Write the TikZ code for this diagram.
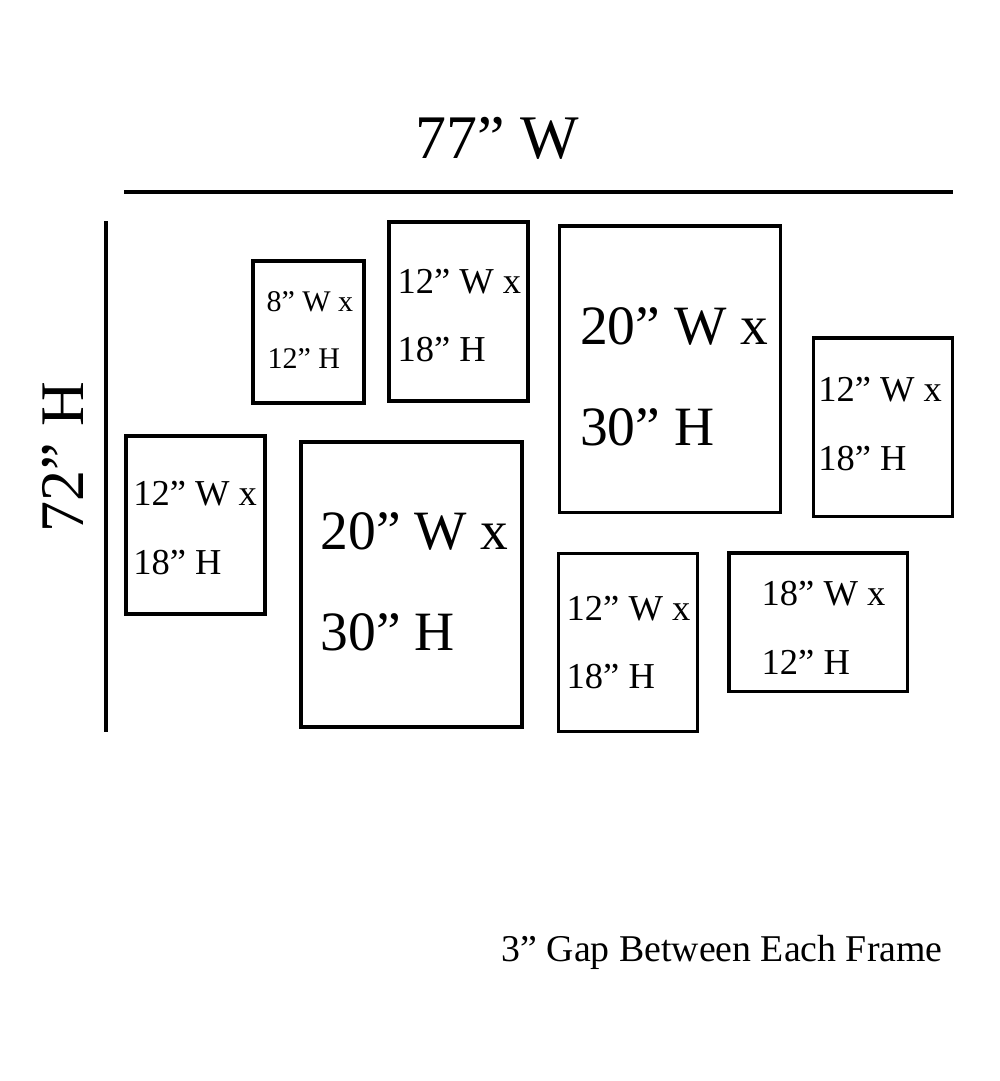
\documentclass[tikz,border=0pt]{standalone}
\usepackage{fontspec}
\setmainfont{Liberation Serif}
\newcommand{\fs}[1]{\fontsize{#1}{#1}\selectfont}
\tikzset{
  frame/.style={draw=black, line width=3.5pt, line join=miter},
  dimline/.style={draw=black, line width=4pt},
  lbl/.style={anchor=base west, inner sep=0pt, outer sep=0pt, text=black},
}
\begin{document}
\begin{tikzpicture}[x=1pt,y=-1pt]
\useasboundingbox[fill=white] (0,0) rectangle (1000,1081);
% dimension lines
\coordinate (hl) at (124,192);
\coordinate (hr) at (953,192);
\coordinate (vt) at (106,221);
\coordinate (vb) at (106,732);
\draw[dimline] (hl) -- (hr);
\draw[dimline] (vt) -- (vb);
\node[lbl] (wlab) at (415,158) {\fs{62}77” W};
\node[lbl, rotate=90] (hlab) at (83.5,532) {\fs{62}72” H};
% frames
\draw[frame] (253,261) rectangle (364,403);
\draw[frame] (389,222) rectangle (528,401);
\draw[frame] (559.5,226) rectangle (780.5,512.5);
\draw[frame] (813.5,338) rectangle (952.5,516.5);
\draw[frame] (126,436) rectangle (265,614);
\draw[frame] (301,442) rectangle (522,727);
\draw[frame] (558.5,553.5) rectangle (697.5,731.5);
\draw[frame] (729,553) rectangle (907.5,691.5);
% frame labels
\node[lbl] (a1) at (266.5,311.5) {\fs{30}8” W x};
\node[lbl] (a2) at (267.5,368.3) {\fs{30}12” H};
\node[lbl] (b1) at (397.5,293.3) {\fs{36.5}12” W x};
\node[lbl] (b2) at (397.5,361.7) {\fs{36.5}18” H};
\node[lbl] (c1) at (580,344.3) {\fs{55.5}20” W x};
\node[lbl] (c2) at (580,445) {\fs{55.5}30” H};
\node[lbl] (d1) at (818.3,401.7) {\fs{36.5}12” W x};
\node[lbl] (d2) at (818.3,470) {\fs{36.5}18” H};
\node[lbl] (e1) at (133.3,505.7) {\fs{36.5}12” W x};
\node[lbl] (e2) at (133.3,574) {\fs{36.5}18” H};
\node[lbl] (f1) at (320.7,549) {\fs{55.5}20” W x};
\node[lbl] (f2) at (320.7,650) {\fs{55.5}30” H};
\node[lbl] (g1) at (566.7,620) {\fs{36.5}12” W x};
\node[lbl] (g2) at (566.7,688.3) {\fs{36.5}18” H};
\node[lbl] (h1) at (761.7,605) {\fs{36.5}18” W x};
\node[lbl] (h2) at (761.7,674) {\fs{36.5}12” H};
% note
\node[lbl] (note) at (501.7,961.7) {\fs{37.8}3” Gap Between Each Frame};
\end{tikzpicture}
\end{document}
